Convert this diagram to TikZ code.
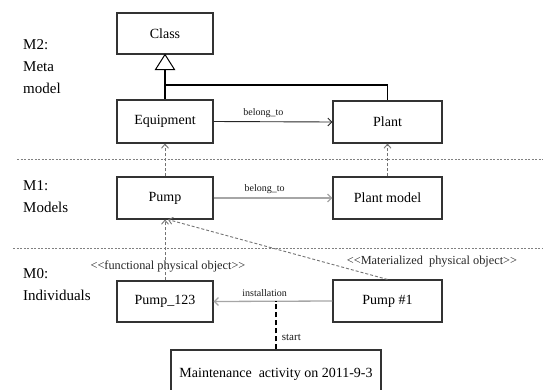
\documentclass[tikz,border=0pt]{standalone}
\usepackage{fontspec}
\setmainfont{Liberation Serif}
\usetikzlibrary{arrows.meta}
\begin{document}
\begin{tikzpicture}[x=1pt,y=-1pt,
  box/.style={draw=black!80,line width=1.1pt,fill=white,inner sep=0pt,text=black,font=\fontsize{14}{16}\selectfont},
  lvl/.style={anchor=north west,align=left,inner sep=0pt,text=black,font=\fontsize{15}{22}\selectfont},
  small/.style={font=\fontsize{10}{12}\selectfont,inner sep=0pt,text=black!90},
  stereo/.style={font=\fontsize{12.3}{14}\selectfont,inner sep=0pt,text=black!85},
  sep/.style={draw=black!50,line width=1pt,dash pattern=on 2pt off 1.5pt},
  assoc/.style={draw=black!85,line width=0.9pt,-{Straight Barb[length=4pt,width=8pt]}},
  assocg/.style={draw=black!35,line width=1.3pt,-{Straight Barb[length=4pt,width=8pt]}},
  inst/.style={draw=black!55,line width=0.9pt,dash pattern=on 3pt off 2pt,-{Straight Barb[length=4pt,width=7pt]}},
  gen/.style={draw=black,line width=1.6pt},
  startl/.style={draw=black,line width=1.8pt,dash pattern=on 5pt off 3pt},
]
\useasboundingbox (0,0) rectangle (543,389);
\clip (0,0) rectangle (543,389);

% level separators
\coordinate (s1a) at (17,159);
\coordinate (s1b) at (543,159);
\coordinate (s2a) at (13,248);
\coordinate (s2b) at (543,248);
\draw[sep] (s1a) -- (s1b);
\draw[sep] (s2a) -- (s2b);

% level labels
\node[lvl] (m2) at (23,39) {M2:\\Meta\\model};
\node[lvl] (m1) at (23,180) {M1:\\Models};
\node[lvl] (m0) at (23,268) {M0:\\Individuals};

% boxes
\node[box,minimum width=96pt,minimum height=41pt] (cls) at (165,33.5) {Class};
\node[box,minimum width=96pt,minimum height=43pt] (eq) at (165,121.5) {Equipment};
\node[box,minimum width=109pt,minimum height=42pt] (pl) at (387.5,122) {Plant};
\node[box,minimum width=96pt,minimum height=42pt] (pump) at (165,198) {Pump};
\node[box,minimum width=109pt,minimum height=42pt] (plm) at (387.5,198) {Plant model};
\node[box,minimum width=96pt,minimum height=41pt] (p123) at (165,301.5) {Pump\_123};
\node[box,minimum width=109pt,minimum height=42pt] (p1) at (387.5,301) {Pump \#1};
\node[box,minimum width=210pt,minimum height=48pt] (maint) at (276,374) {Maintenance\ \ activity on 2011-9-3};

% stereotypes
\node[stereo] (st1) at (168,266) {<{}<functional physical object>{}>};
\node[stereo] (st2) at (432,262) {<{}<Materialized\ \ physical object>{}>};

% generalization
\draw[black,line width=1pt,fill=white] (cls.south) -- ++(-9.5,15) -- ++(19,0) -- cycle;
\coordinate (tb) at (165,69);
\coordinate (j) at (165,85);
\draw[gen] (tb) -- (eq.north);
\draw[gen] (j) -| (pl.north);

% associations
\draw[assoc] (eq.east) -- (pl.west) node[small,pos=0.42,above=4pt] {belong\_to};
\draw[assocg] (pump.east) -- (plm.west) node[small,pos=0.43,above=4pt] {belong\_to};
\draw[assocg] (p1.west) -- (p123.east) node[small,pos=0.57,above=4pt] {installation};

% instance-of
\draw[inst] (pump.north) -- (eq.south);
\draw[inst] (plm.north) -- (pl.south);
\draw[inst] (p123.north) -- (pump.south);
\draw[inst] (p1.north) -- ([xshift=3pt]pump.south);

% start link
\draw[startl] (maint.north) -- (maint.north |- p1.west)
  node[pos=0.25,anchor=west,xshift=5pt,font=\fontsize{11}{13}\selectfont,inner sep=0pt,text=black!90] {start};
\end{tikzpicture}
\end{document}
